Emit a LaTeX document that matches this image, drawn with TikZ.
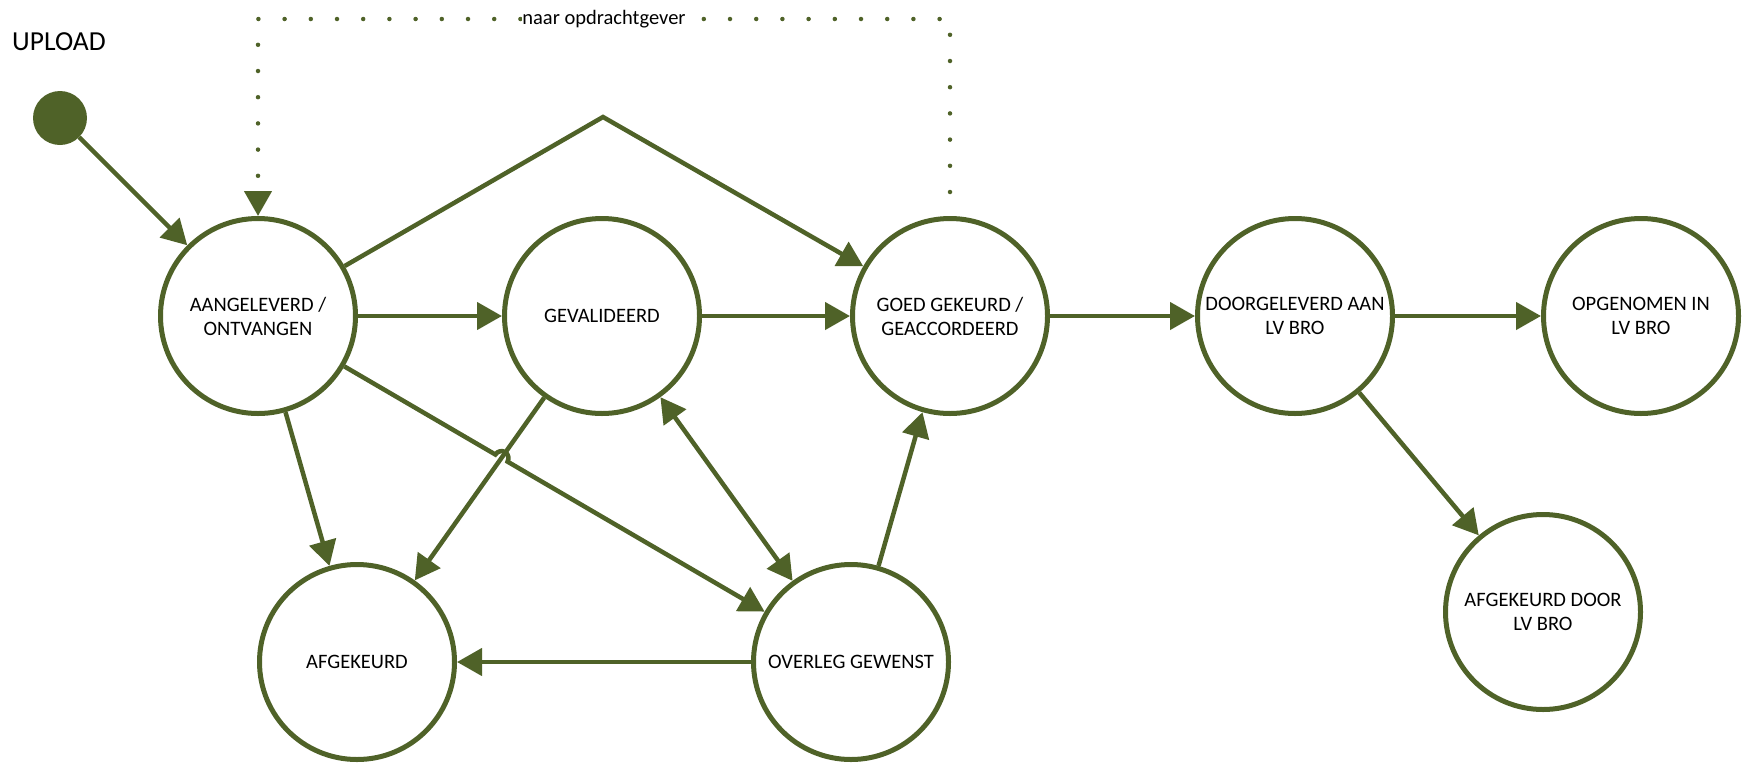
\documentclass[tikz,border=0pt]{standalone}
\usepackage{fontspec}
\setmainfont{Carlito}
\usetikzlibrary{arrows.meta,calc}
\definecolor{brogreen}{RGB}{79,98,40}

\begin{document}
\begin{tikzpicture}[x=1pt,y=1pt,
  >={Triangle[length=25pt,width=27pt]},
  status/.style={draw=brogreen, circle, line width=5pt, minimum size=195pt, inner sep=0pt, align=center, font=\fontsize{20.5}{24}\selectfont},
  flow/.style={draw=brogreen, line width=4.5pt, ->},
  dotflow/.style={draw=brogreen, line width=4.5pt, line cap=round, dash pattern=on 0pt off 26.2pt, dash phase=2.2pt, ->}]
\useasboundingbox (0,0) rectangle (1744,-763);

\node[anchor=west, inner sep=0pt, font=\fontsize{27.5}{33}\selectfont] (upload) at (12,-42) {UPLOAD};
\node[circle, fill=brogreen, minimum size=54pt, inner sep=0pt] (start) at (60,-118) {};

\node[status] (aangeleverd) at (258,-316) {AANGELEVERD /\\ONTVANGEN};
\node[status] (gevalideerd) at (602,-316) {GEVALIDEERD};
\node[status] (goedgekeurd) at (950,-316) {GOED GEKEURD /\\GEACCORDEERD};
\node[status] (doorgeleverd) at (1295,-316) {DOORGELEVERD AAN\\LV BRO};
\node[status] (opgenomen) at (1641,-316) {OPGENOMEN IN\\LV BRO};
\node[status] (afgekeurd) at (357,-662) {AFGEKEURD};
\node[status] (overleg) at (851,-662) {OVERLEG GEWENST};
\node[status] (afgekeurdbro) at (1543,-612) {AFGEKEURD DOOR\\LV BRO};

\coordinate (apex) at (603,-117);
\coordinate (tr) at (950,-19);
\coordinate (tl) at (258,-19);
\coordinate (hop) at (intersection of aangeleverd--overleg and gevalideerd--afgekeurd);

\path[flow] (start) -- (aangeleverd);
\path[flow] (aangeleverd) -- (gevalideerd);
\path[flow] (aangeleverd) -- (apex) -- (goedgekeurd);
\path[flow] (gevalideerd) -- (goedgekeurd);
\path[flow] (goedgekeurd) -- (doorgeleverd);
\path[flow] (doorgeleverd) -- (opgenomen);
\path[flow] (doorgeleverd) -- (afgekeurdbro);
\path[flow] (aangeleverd) -- (afgekeurd);
\path[flow] (gevalideerd) -- (afgekeurd);
\path[flow,<->] (gevalideerd) -- (overleg);
\path[flow] (overleg) -- (goedgekeurd);
\path[flow] (overleg) -- (afgekeurd);
\path[flow] (aangeleverd) -- ($(hop)!7pt!(aangeleverd)$) arc[start angle=149.7, end angle=-30.3, radius=7pt] -- (overleg);

\path[dotflow] (goedgekeurd) -- (tr) -- (tl) node[midway, fill=white, inner xsep=0pt, inner ysep=1pt, text=black, font=\fontsize{20.5}{24}\selectfont] {naar opdrachtgever} -- (aangeleverd);
\end{tikzpicture}
\end{document}
